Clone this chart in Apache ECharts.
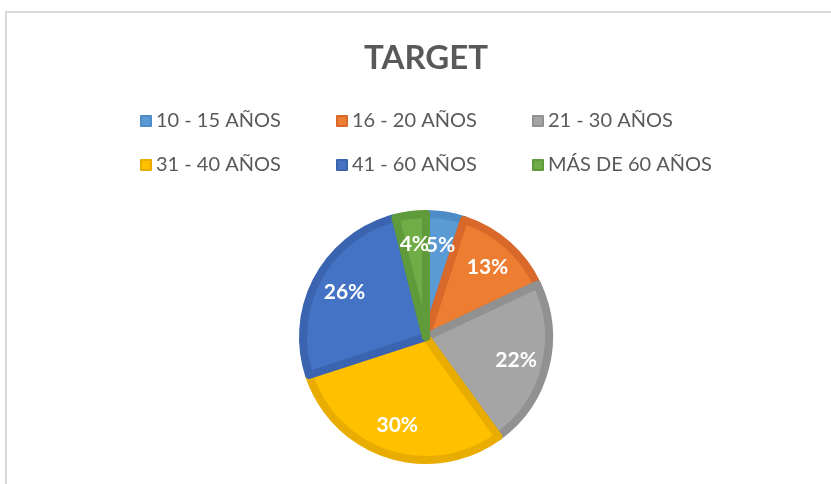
<!DOCTYPE html>
<html lang="es">
<head>
  <meta charset="UTF-8">
  <title>Target</title>
  <script src="https://cdn.jsdelivr.net/npm/echarts@6/dist/echarts.min.js"></script>
  <style>
    html, body { margin: 0; padding: 0; background: #fff; }
    #chart { width: 831px; height: 484px; }
    .frame {
      position: absolute; left: 5px; top: 11px; right: 0; bottom: 0;
      border-left: 2px solid #d9d9d9; border-top: 2px solid #d9d9d9;
      pointer-events: none;
    }
  </style>
</head>
<body>
  <div id="chart"></div>
  <div class="frame"></div>
<script>
  const categories = ['10 - 15 AÑOS', '16 - 20 AÑOS', '21 - 30 AÑOS', '31 - 40 AÑOS', '41 - 60 AÑOS', 'MÁS DE 60 AÑOS'];
  const values = [5, 13, 22, 30, 26, 4];
  const fills = ['#5b9bd5', '#ed7d31', '#a5a5a5', '#ffc000', '#4472c4', '#70ad47'];
  const edges = ['#4d8cc6', '#d9692a', '#919191', '#e8ad00', '#3b64b0', '#5f9a3b'];

  const center = [426, 337];

  const chart = echarts.init(document.getElementById('chart'));
  chart.setOption({
    animation: false,
    title: {
      text: 'TARGET',
      left: 421,
      textAlign: 'center',
      top: 37,
      textStyle: { fontFamily: 'Lato', fontWeight: 'bold', fontSize: 33, color: '#595959' }
    },
    legend: {
      data: categories,
      left: 135,
      top: 106,
      width: 620,
      itemWidth: 10,
      itemHeight: 10,
      itemGap: 24,
      icon: 'rect',
      textStyle: { fontFamily: 'Lato', fontSize: 20, color: '#595959', width: 156, lineHeight: 20 }
    },
    series: [
      {
        type: 'pie',
        center: center,
        radius: [0, 123],
        startAngle: 90,
        clockwise: true,
        label: { show: false },
        labelLine: { show: false },
        data: categories.map((name, i) => ({
          name: name,
          value: values[i],
          itemStyle: { color: fills[i], borderColor: edges[i], borderWidth: 8 }
        }))
      },
      {
        // transparent ring used only to place the percentage labels further out
        type: 'pie',
        silent: true,
        center: center,
        radius: [62, 118],
        startAngle: 90,
        clockwise: true,
        avoidLabelOverlap: false,
        percentPrecision: 0,
        itemStyle: { color: 'transparent' },
        label: {
          show: true,
          position: 'inside',
          formatter: '{d}%',
          fontFamily: 'Lato',
          fontWeight: 'bold',
          fontSize: 21,
          color: '#fff'
        },
        labelLayout: { hideOverlap: false },
        labelLine: { show: false },
        data: categories.map((name, i) => ({ name: name, value: values[i] }))
      }
    ]
  });
</script>
</body>
</html>
